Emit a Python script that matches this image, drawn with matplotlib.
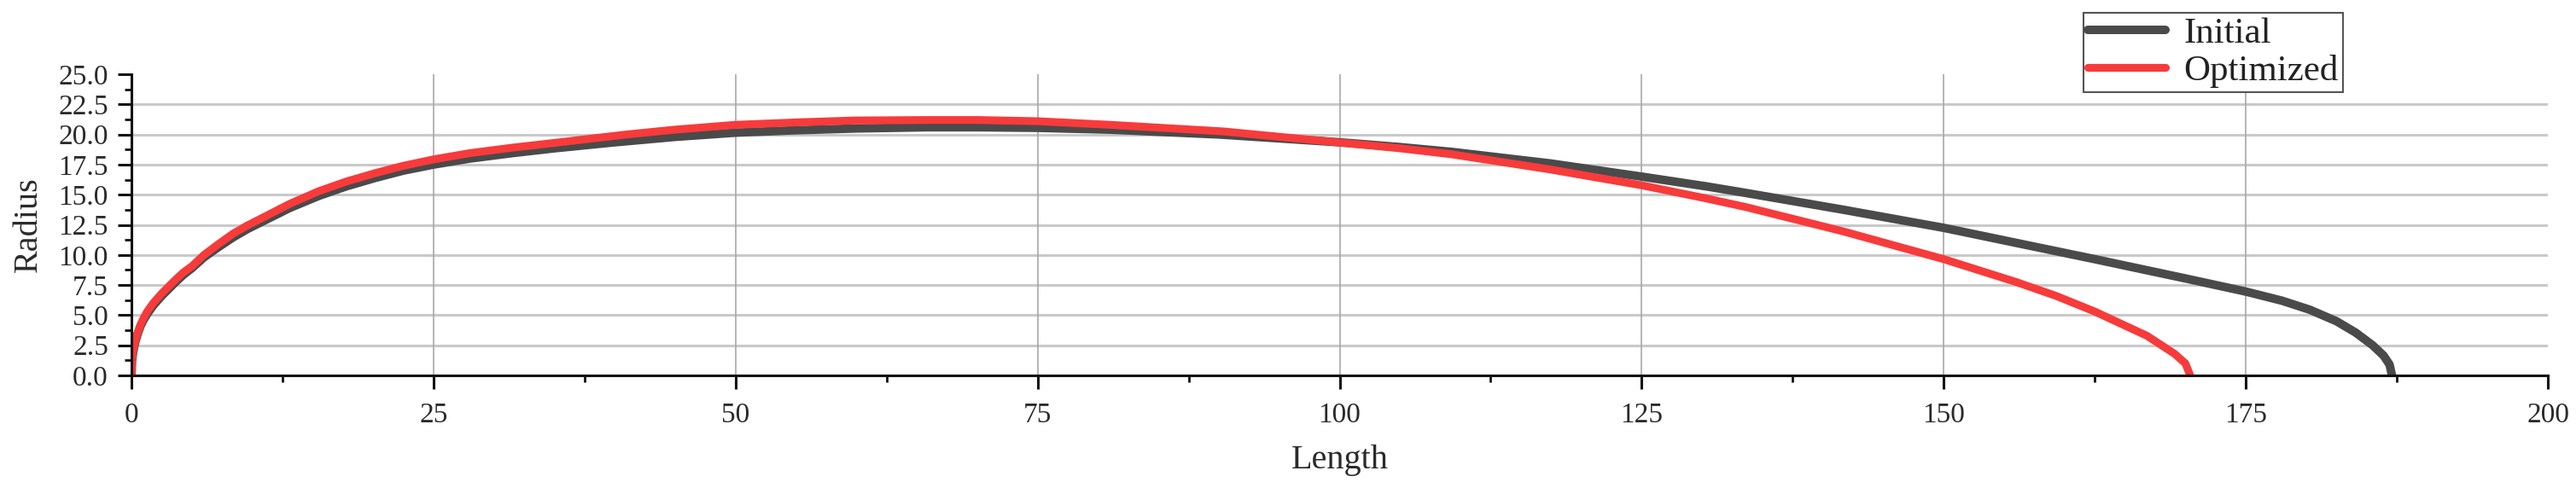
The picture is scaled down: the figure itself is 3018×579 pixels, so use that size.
import numpy as np
import matplotlib
matplotlib.use('Agg')
import matplotlib.pyplot as plt
from matplotlib.ticker import AutoMinorLocator, FormatStrFormatter

plt.rcParams['font.family'] = ['Liberation Serif', 'DejaVu Serif']

# данные
initial_x = [0, 0.05, 0.15, 0.3, 0.5, 0.75, 1.0, 1.3, 1.8, 2.5, 3.1, 3.7, 4.3, 5, 6, 7.2,
             8.4, 9.6, 10.8, 13.1, 15.5, 17.8, 20.2, 22.5, 25, 28, 31.5, 35, 40, 45,
             50, 55, 60, 66, 70, 75, 81, 90, 100, 105, 109.3, 117.4, 125, 130.3,
             133.6, 141.7, 150, 156, 162.5, 170, 175, 178, 180.3, 182.5, 184.1,
             185.5, 186.4, 186.9, 187.1]
initial_y = [0, 1.2, 2.0, 2.7, 3.4, 4.1, 4.6, 5.1, 5.8, 6.6, 7.2, 7.8, 8.35, 8.9, 9.8,
             10.65, 11.45, 12.15, 12.75, 13.9, 14.9, 15.7, 16.4, 17.0, 17.5, 18.0,
             18.45, 18.85, 19.35, 19.8, 20.15, 20.35, 20.5, 20.6, 20.6, 20.55, 20.4,
             20.0, 19.35, 18.95, 18.55, 17.6, 16.5, 15.7, 15.15, 13.75, 12.25, 11.0,
             9.65, 8.05, 6.96, 6.2, 5.45, 4.5, 3.55, 2.5, 1.65, 0.9, 0]

optimized_x = [0, 0.05, 0.15, 0.3, 0.5, 0.75, 1.0, 1.3, 1.8, 2.5, 3.1, 3.7, 4.3, 5, 6,
               7.2, 8.4, 9.6, 10.8, 13.1, 15.5, 17.8, 20.2, 22.5, 25, 28, 31.5, 35,
               40.9, 45, 50, 55, 59.8, 66.2, 70, 75, 81, 90.4, 100, 105, 109.3, 117.4,
               125, 130.3, 133.6, 141.7, 150, 156, 159.3, 162.5, 166.8, 169.1, 170, 170.4]
optimized_y = [0, 1.3, 2.1, 2.8, 3.5, 4.2, 4.75, 5.3, 6.0, 6.8, 7.4, 8.0, 8.55, 9.06,
               10.0, 10.9, 11.76, 12.45, 13.06, 14.24, 15.29, 16.1, 16.8, 17.4, 17.93,
               18.45, 18.9, 19.3, 19.99, 20.4, 20.8, 21.0, 21.16, 21.2, 21.2, 21.1,
               20.8, 20.25, 19.33, 18.85, 18.35, 17.1, 15.78, 14.7, 13.98, 11.95, 9.65,
               7.75, 6.6, 5.3, 3.3, 1.8, 1.0, 0]

series_names = ['Initial', 'Optimized']
x_ticks = [0, 25, 50, 75, 100, 125, 150, 175, 200]
y_ticks = [0, 2.5, 5, 7.5, 10, 12.5, 15, 17.5, 20, 22.5, 25]

fig = plt.figure(figsize=(30.18, 5.79), dpi=100)
ax = fig.add_axes([154 / 3018, 139 / 579, 2831 / 3018, 353 / 579])

# сетка
for yv in y_ticks[1:-1]:
    ax.axhline(yv, color='#c9c9c9', lw=2.2, zorder=0.5)
for xv in x_ticks[1:-1]:
    ax.axvline(xv, color='#a8a8a8', lw=1.2, zorder=0.6)

ax.plot(initial_x, initial_y, color='#4a4a4a', lw=7.2, label=series_names[0],
        solid_capstyle='round', solid_joinstyle='round', zorder=2)
ax.plot(optimized_x, optimized_y, color='#f73b3b', lw=6.6, label=series_names[1],
        solid_capstyle='round', solid_joinstyle='round', zorder=2.1)

ax.set_xlim(0, 200)
ax.set_ylim(0, 25)
ax.set_xticks(x_ticks)
ax.set_yticks(y_ticks)
ax.yaxis.set_major_formatter(FormatStrFormatter('%.1f'))
ax.xaxis.set_minor_locator(AutoMinorLocator(2))
ax.yaxis.set_minor_locator(AutoMinorLocator(2))

for s in ['top', 'right']:
    ax.spines[s].set_visible(False)
for s in ['left', 'bottom']:
    ax.spines[s].set_linewidth(2.2)
    ax.spines[s].set_color('#111111')

ax.tick_params(axis='both', which='major', direction='out', length=11.5, width=2.2,
               labelsize=24, colors='#111111', labelcolor='#2a2a2a')
ax.tick_params(axis='both', which='minor', direction='out', length=5.5, width=2.0,
               colors='#111111')
ax.tick_params(axis='x', which='major', pad=11)
ax.tick_params(axis='y', which='major', pad=8)

ax.set_xlabel('Length', fontsize=29, color='#2a2a2a', labelpad=14)
ax.set_ylabel('Radius', fontsize=29, color='#2a2a2a', labelpad=12)

leg = ax.legend(loc='upper left', bbox_to_anchor=(2441 / 3018, 1 - 15 / 579),
                bbox_transform=fig.transFigure, fontsize=31, frameon=True,
                fancybox=False, framealpha=1, edgecolor='#555555',
                handlelength=2.1, handletextpad=0.5, labelspacing=0.1,
                borderpad=0.12, borderaxespad=0)
leg.get_frame().set_linewidth(1.5)
for t in leg.get_texts():
    t.set_color('#222222')

fig.savefig('out.png', dpi=100)
